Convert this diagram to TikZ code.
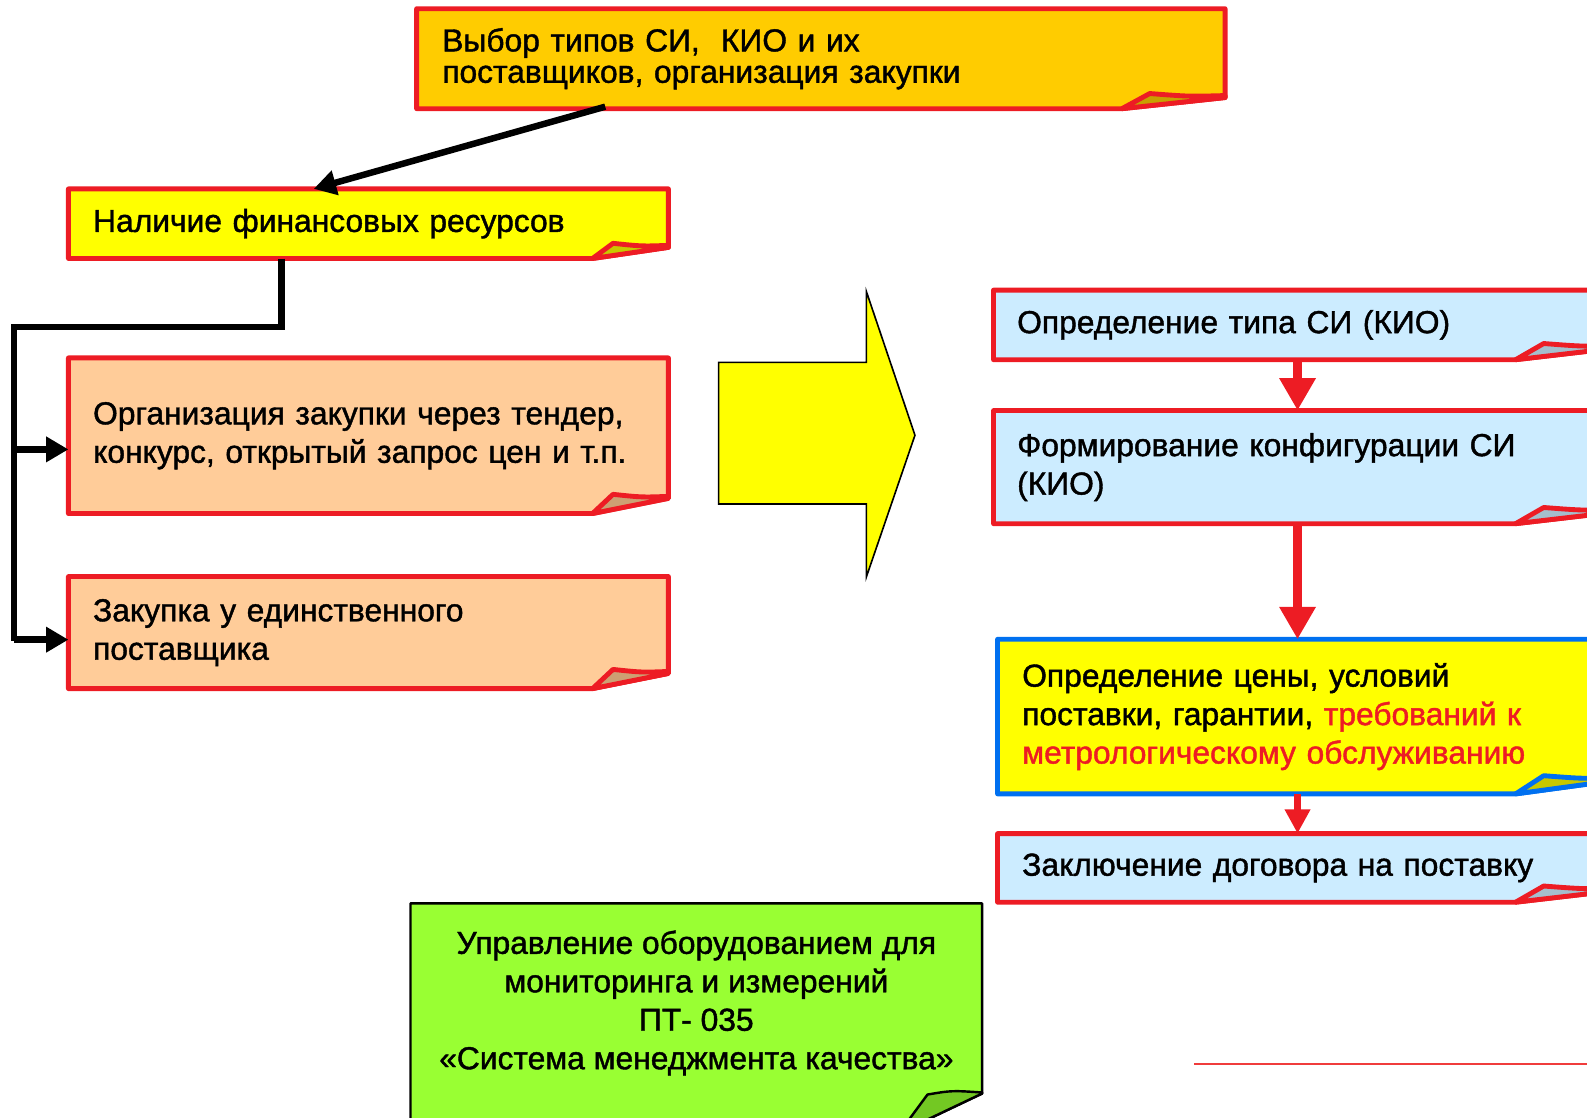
\documentclass[tikz,border=0pt]{standalone}
\usepackage{fontspec}
\setmainfont{Liberation Sans}
\newfontfamily\heavysans[FakeBold=1.3]{Liberation Sans}
\usetikzlibrary{arrows.meta,calc,backgrounds}
\definecolor{bred}{RGB}{237,28,36}
\definecolor{topfill}{RGB}{255,204,0}
\definecolor{topflap}{RGB}{200,160,0}
\definecolor{yel}{RGB}{255,255,0}
\definecolor{yelflap}{RGB}{200,200,0}
\definecolor{peach}{RGB}{255,204,153}
\definecolor{peachflap}{RGB}{205,160,115}
\definecolor{lblue}{RGB}{204,236,255}
\definecolor{lblueflap}{RGB}{165,190,205}
\definecolor{bblue}{RGB}{0,112,240}
\definecolor{lgreen}{RGB}{153,255,51}
\definecolor{gflap}{RGB}{115,200,35}
\definecolor{thinred}{RGB}{240,60,60}
\tikzset{
  box/.style={rectangle, inner sep=0pt, align=left, font=\heavysans\fontsize{15.7pt}{19pt}\selectfont, text=black},
  boxline/.style={line width=2.4pt, line join=round},
  conn/.style={line width=3.2pt, -{Triangle[length=11pt,width=12pt]}},
  redconn/.style={draw=bred, line width=4.2pt, -{Triangle[length=16pt,width=17pt]}},
  redconnsmall/.style={draw=bred, line width=3.6pt, -{Triangle[length=12pt,width=12pt]}},
}
\newcommand\foldshape[6]{%
  \path[fill=#4, draw=#5, boxline] (#1.north west) -- (#1.north east) -- ($(#1.south east)+(0,-#3)$) -- ($(#1.south east)+(-#2,0)$) -- (#1.south west) -- cycle;
  \path[fill=#6, draw=#5, boxline] ($(#1.south east)+(-#2,0)$) -- ($(#1.south east)+({-0.73*#2},{-#3-4})$) .. controls ($(#1.south east)+({-0.35*#2},{-#3-1})$) .. ($(#1.south east)+(0,{-#3-2})$) -- ($(#1.south east)+(0,-#3)$) -- cycle;
}
\begin{document}
\begin{tikzpicture}[x=0.5pt,y=-0.5pt]
\useasboundingbox (0,0) rectangle (1568,1104);
\clip (0,0) rectangle (1568,1104);

% nodes
\node[box, minimum width=399pt, minimum height=49pt, inner xsep=12.5pt, text width=374pt,
      font=\heavysans\fontsize{15.7pt}{15.5pt}\selectfont] (sel) at (811,58)
  {Выбор типов СИ,\ \ КИО и их\\поставщиков, организация закупки};
\node[box, minimum width=296pt, minimum height=34pt, inner xsep=12pt, text width=272pt] (fin) at (364,221)
  {Наличие финансовых ресурсов};
\node[box, minimum width=296pt, minimum height=76.5pt, inner xsep=12pt, text width=272pt] (org) at (364,430.5)
  {Организация закупки через тендер,\\конкурс, открытый запрос цен и т.п.};
\node[box, minimum width=296pt, minimum height=55pt, inner xsep=12pt, text width=272pt] (zak) at (364,625)
  {Закупка у единственного\\поставщика};
\node[box, minimum width=309pt, minimum height=34pt, inner xsep=11.5pt, text width=286pt] (r1) at (1291,321)
  {Определение типа СИ (КИО)};
\node[box, minimum width=309pt, minimum height=55.5pt, inner xsep=11.5pt, text width=286pt] (r2) at (1291,461.5)
  {Формирование конфигурации СИ\\(КИО)};
\node[box, minimum width=307pt, minimum height=76pt, inner xsep=12pt, text width=283pt] (r3) at (1293,708)
  {Определение цены, условий\\поставки, гарантии, \textcolor{bred}{требований к}\\\textcolor{bred}{метрологическому обслуживанию}};
\node[box, minimum width=307pt, minimum height=33.5pt, inner xsep=12pt, text width=283pt] (r4) at (1293,857.5)
  {Заключение договора на поставку};
\node[box, align=center, minimum width=282pt, minimum height=98pt] (grn) at (688,991)
  {Управление оборудованием для\\мониторинга и измерений\\ПТ- 035\\«Система менеджмента качества»};

% shapes behind text
\begin{pgfonlayer}{background}
\begin{scope}
\clip (0,0) rectangle (1568,1104);
\foldshape{sel}{102}{11}{topfill}{bred}{topflap}
\foldshape{fin}{75}{11}{yel}{bred}{yelflap}
\foldshape{org}{75}{15}{peach}{bred}{peachflap}
\foldshape{zak}{75}{15}{peach}{bred}{peachflap}
\foldshape{r1}{103}{12}{lblue}{bred}{lblueflap}
\foldshape{r2}{103}{12}{lblue}{bred}{lblueflap}
\foldshape{r3}{103}{14}{yel}{bblue}{yelflap}
\foldshape{r4}{103}{12}{lblue}{bred}{lblueflap}
% green note (runs past the lower edge)
\path[fill=lgreen, draw=black, line width=1.2pt, line join=round]
  (grn.north west) -- (grn.north east) -- ($(grn.south east)+(0,-9)$) -- ($(grn.south east)+(-82,30)$) -- ($(grn.south west)+(0,30)$) -- cycle;
\path[fill=gflap, draw=black, line width=1.2pt, line join=round]
  ($(grn.south east)+(-82,30)$) -- ($(grn.south east)+(-54,-8)$) .. controls ($(grn.south east)+(-30,-12)$) .. ($(grn.south east)+(0,-10)$) -- ($(grn.south east)+(0,-9)$) -- cycle;
\end{scope}
\end{pgfonlayer}

% big yellow arrow
\draw[fill=yel, line width=0.8pt, line join=miter]
  (710,358) -- (856,358) -- (856,288) -- (904,430) -- (856,570) -- (856,498) -- (710,498) -- cycle;

% black connectors
\coordinate (s1) at (598,0);
\coordinate (e1) at (310,0);
\coordinate (t1) at (278,0);
\coordinate (bx) at (14,323);
\coordinate (b1) at (14,444);
\coordinate (b2) at (14,632);
\draw[conn] ($(sel.south -| s1)+(0,-2)$) -- (fin.north -| e1);
\draw[line width=3.2pt, line join=miter] (fin.south -| t1) |- (bx) -- ($(b2)+(0,1.6)$);
\draw[conn] (b1) -- (org.west |- b1);
\draw[conn] (b2) -- (zak.west |- b2);

% red connectors
\coordinate (ax) at (1282,0);
\draw[redconn] (r1.south -| ax) -- (r2.north -| ax);
\draw[redconn] (r2.south -| ax) -- (r3.north -| ax);
\draw[redconnsmall] (r3.south -| ax) -- (r4.north -| ax);

% thin red line
\draw[thinred, line width=1.2pt] (1180,1051) -- (1600,1051);
\end{tikzpicture}
\end{document}
